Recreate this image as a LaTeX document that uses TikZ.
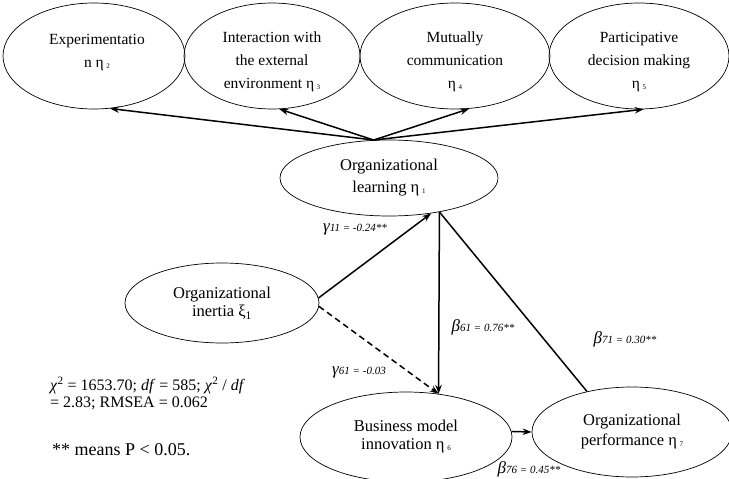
\documentclass[tikz,border=0pt]{standalone}
\usepackage{fontspec}
\setmainfont{Liberation Serif}
\usetikzlibrary{shapes.geometric,arrows.meta}
\tikzset{
  ell/.style={draw, ellipse, inner sep=0pt, line width=0.7pt},
  etext/.style={align=center, font=\fontsize{15.5}{23}\selectfont, anchor=north, inner sep=0pt},
  arr/.style={line width=1.5pt, -{Stealth[length=9pt,width=6.5pt]}},
  lin/.style={line width=1.5pt},
  coeflab/.style={inner sep=0pt},
  note/.style={align=left, anchor=west, inner sep=0pt},
}
\newcommand\etasub[1]{η\,{\fontsize{7}{7}\selectfont\raisebox{-1pt}{#1}}}
\newcommand\cf[2]{{\fontsize{17}{17}\selectfont\itshape #1}{\fontsize{11}{11}\selectfont\itshape #2}}
\begin{document}
\begin{tikzpicture}[x=1pt,y=-1pt]
\useasboundingbox (0,0) rectangle (729,479);
% top ellipses
\node[ell, minimum width=182pt, minimum height=106pt] (e2) at (94,56) {};
\node[ell, minimum width=176pt, minimum height=106pt] (e3) at (272,56) {};
\node[ell, minimum width=190pt, minimum height=106pt] (e4) at (455,56) {};
\node[ell, minimum width=180pt, minimum height=106pt] (e5) at (639,56) {};
\node[etext] (t2) at (97,34) {Experimentatio\\n \etasub{2}};
\node[etext] (t3) at (272,32) {Interaction with\\the external\\environment \etasub{3}};
\node[etext] (t4) at (455,32) {Mutually\\communication\\\etasub{4}};
\node[etext] (t5) at (639,32) {Participative\\decision making\\\etasub{5}};
% main ellipses
\node[ell, minimum width=218pt, minimum height=76pt, align=center,
      font=\fontsize{16.5}{22}\selectfont] (ol) at (389,178) {Organizational\\learning \etasub{1}};
\node[ell, minimum width=194pt, minimum height=80pt, align=center,
      font=\fontsize{16.5}{18.5}\selectfont] (oi) at (222,303) {Organizational\\inertia ξ\textsubscript{1}};
\node[ell, minimum width=212pt, minimum height=90pt, align=center,
      font=\fontsize{16.5}{18}\selectfont] (bmi) at (406,437) {Business model\\innovation \etasub{6}};
\node[ell, minimum width=200pt, minimum height=90pt, align=center,
      font=\fontsize{16.5}{20}\selectfont] (op) at (632,432) {Organizational\\performance \etasub{7}};
% connectors
\draw[arr] (ol.112) -- (e2.287);
\draw[arr] (ol.112) -- (e3.278);
\draw[arr] (ol.112) -- (e4.285);
\draw[arr] (ol.112) -- (e5.275);
\draw[arr] (oi.3) -- (ol.-40);
\draw[arr] (ol.-34) -- (bmi.53);
\draw[arr, dashed, dash pattern=on 6pt off 4pt] (oi.-2) -- (bmi.53);
\draw[lin] (ol.-34) -- (op.138);
\draw[arr] (bmi.3) -- (op.west);
% coefficient labels
\node[coeflab] (g11) at (355,229) {\cf{γ}{11 = -0.24**}};
\node[coeflab] (b61) at (483,327) {\cf{β}{61 = 0.76**}};
\node[coeflab] (b71) at (625,339) {\cf{β}{71 = 0.30**}};
\node[coeflab] (g61) at (359,372) {\cf{γ}{61 = -0.03}};
\node[coeflab] (b76) at (529,469) {\cf{β}{76 = 0.45**}};
% notes
\node[note, font=\fontsize{16}{17}\selectfont] (stats) at (50,393.5)
  {\textit{χ}\textsuperscript{2} = 1653.70; \textit{df} = 585; \textit{χ}\textsuperscript{2} / \textit{df}\\= 2.83; RMSEA = 0.062};
\node[note, font=\fontsize{18}{20}\selectfont] (sig) at (52,450) {** means P < 0.05.};
\end{tikzpicture}
\end{document}
